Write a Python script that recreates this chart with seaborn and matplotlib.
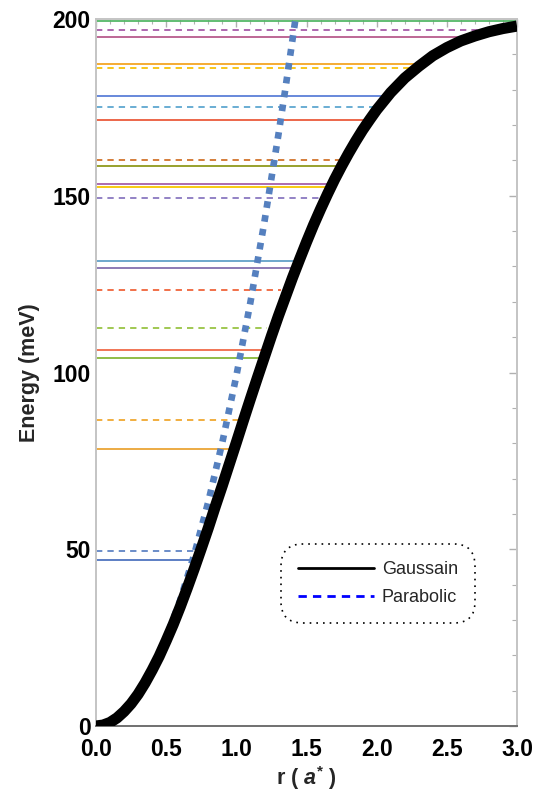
import matplotlib
matplotlib.use("Agg")
import matplotlib.pyplot as plt
import seaborn as sns
import pandas as pd
from matplotlib.lines import Line2D

# ---------------- data ----------------
# Gaussian potential curve
gauss_r = [0.0, 0.05, 0.1, 0.15, 0.2, 0.25, 0.3, 0.35, 0.4, 0.45, 0.5, 0.55, 0.6, 0.65, 0.7,
           0.75, 0.8, 0.85, 0.9, 0.95, 1.0, 1.05, 1.1, 1.15, 1.2, 1.25, 1.3, 1.35, 1.4, 1.45,
           1.5, 1.55, 1.6, 1.65, 1.7, 1.75, 1.8, 1.85, 1.9, 1.95, 2.0, 2.1, 2.2, 2.3, 2.4,
           2.5, 2.6, 2.7, 2.8, 2.9, 3.0]
gauss_E = [0.0, 0.26, 1.0, 2.3, 4.1, 6.3, 9.0, 12.2, 15.8, 19.7, 24.1, 28.7, 33.7, 39.0, 44.5,
           50.2, 56.0, 62.1, 68.0, 74.1, 80.2, 86.4, 92.5, 98.5, 104.4, 110.3, 116.0, 121.4,
           126.8, 131.9, 136.9, 141.7, 146.2, 150.5, 154.6, 158.4, 162.0, 165.4, 168.6, 171.5,
           174.3, 179.2, 183.3, 186.6, 189.6, 191.9, 193.8, 195.2, 196.4, 197.3, 198.0]

# Parabolic potential curve
para_r = [0.0, 0.1, 0.2, 0.3, 0.4, 0.5, 0.6, 0.7, 0.8, 0.9, 1.0, 1.1, 1.2, 1.3, 1.35, 1.42]
para_E = [0.0, 1.0, 4.0, 8.9, 15.8, 24.8, 35.6, 48.5, 63.4, 80.2, 99.0, 119.8, 142.6, 167.3,
          180.4, 199.6]

# Energy levels (meV), end of each line (r), and whether dashed
level_E = [199.5, 196.9, 194.8, 187.2, 186.1, 178.2, 175.2, 171.4, 160.1, 158.5, 153.3, 152.4,
           149.3, 131.5, 129.7, 123.3, 112.5, 106.5, 104.2, 86.5, 78.3, 49.6, 47.0]
level_end = [3.0, 2.81, 2.64, 2.31, 2.27, 2.08, 2.01, 1.94, 1.74, 1.75, 1.68, 1.67,
             1.63, 1.44, 1.42, 1.32, 1.22, 1.22, 1.19, 1.02, 0.97, 0.72, 0.68]
level_dashed = [False, True, False, False, True, False, True, False, True, False, False, False,
                True, False, False, True, True, False, False, True, False, True, False]

# styles
level_colors = ['#55b868', '#a65aa8', '#b85c8c', '#f5a623', '#f7c20a', '#5c7fd8', '#5ea7d0',
                '#eb5a3c', '#d2732a', '#909a1c', '#a660a8', '#f7c600', '#8a78c0', '#62a0c8',
                '#8470b0', '#f0643a', '#98c444', '#f06a48', '#88b838', '#f0a830', '#eba535',
                '#5f84c4', '#4f74bf']

x_ticks = [0.0, 0.5, 1.0, 1.5, 2.0, 2.5, 3.0]
x_ticklabels = ['0.0', '0.5', '1.0', '1.5', '2.0', '2.5', '3.0']
y_ticks = [0, 50, 100, 150, 200]
y_ticklabels = ['0', '50', '100', '150', '200']

# ---------------- plot ----------------
sns.set_style("white")
plt.rcParams['font.family'] = ['Liberation Sans', 'DejaVu Sans']
plt.rcParams['mathtext.fontset'] = 'custom'
plt.rcParams['mathtext.it'] = 'Liberation Sans:italic:bold'
plt.rcParams['mathtext.rm'] = 'Liberation Sans:bold'
plt.rcParams['mathtext.bf'] = 'Liberation Sans:bold'

fig = plt.figure(figsize=(5.37, 7.92), dpi=100)
ax = fig.add_axes([96/537, 66/792, 421/537, 707/792])

for E, xe, dsh, c in zip(level_E, level_end, level_dashed, level_colors):
    ax.hlines(E, 0, xe, colors=c, linewidth=1.3,
              linestyles=(0, (3.5, 2.8)) if dsh else 'solid', zorder=2)

df_p = pd.DataFrame({'r': para_r, 'E': para_E})
df_g = pd.DataFrame({'r': gauss_r, 'E': gauss_E})
sns.lineplot(data=df_p, x='r', y='E', ax=ax, color='#5580bf', linewidth=4.8,
             linestyle=(0, (1, 1.1)), sort=False, zorder=3, dash_capstyle='butt')
sns.lineplot(data=df_g, x='r', y='E', ax=ax, color='black', linewidth=8.0,
             sort=False, zorder=4, solid_capstyle='butt', solid_joinstyle='round')

ax.set_xlim(0, 3.0)
ax.set_ylim(0, 200)
ax.set_xticks(x_ticks)
ax.set_xticklabels(x_ticklabels)
ax.set_yticks(y_ticks)
ax.set_yticklabels(y_ticklabels)
ax.set_xticks([i / 10 for i in range(31)], minor=True)
ax.set_yticks(list(range(0, 201, 10)), minor=True)

ax.tick_params(which='both', direction='in', top=True, right=True, colors='#b0b0b0',
               labelcolor='black', labelsize=16.5)
ax.tick_params(which='major', length=6, width=1.0)
ax.tick_params(which='minor', length=3.5, width=0.8)
ax.tick_params(axis='x', pad=9)
ax.tick_params(axis='y', pad=4)
for lab in ax.get_xticklabels() + ax.get_yticklabels():
    lab.set_fontweight('bold')

for side in ['left', 'right', 'top']:
    ax.spines[side].set_color('#c4c4c4')
    ax.spines[side].set_linewidth(1.4)
ax.spines['bottom'].set_color('#707070')
ax.spines['bottom'].set_linewidth(1.4)

ax.set_ylabel('Energy (meV)', fontsize=15.5, fontweight='bold', labelpad=9)
ax.set_xlabel(r'r ( $a^{*}$ )', fontsize=15.5, fontweight='bold', labelpad=2)

handles = [Line2D([], [], color='black', linewidth=2.0),
           Line2D([], [], color='#0000ff', linewidth=2.0, linestyle=(0, (3, 2.2)))]
leg = ax.legend(handles, ['Gaussain', 'Parabolic'], loc='center',
                bbox_to_anchor=(0.670, 0.201), fontsize=13, frameon=True, fancybox=True,
                borderpad=0.95, labelspacing=0.6, handlelength=4.2, handletextpad=0.45)
fr = leg.get_frame()
fr.set_boxstyle('round,pad=0,rounding_size=1.2')
fr.set_edgecolor('black')
fr.set_facecolor('white')
fr.set_alpha(None)
fr.set_linewidth(1.2)
fr.set_linestyle((0, (1, 3)))

fig.savefig('out.png', dpi=100)
